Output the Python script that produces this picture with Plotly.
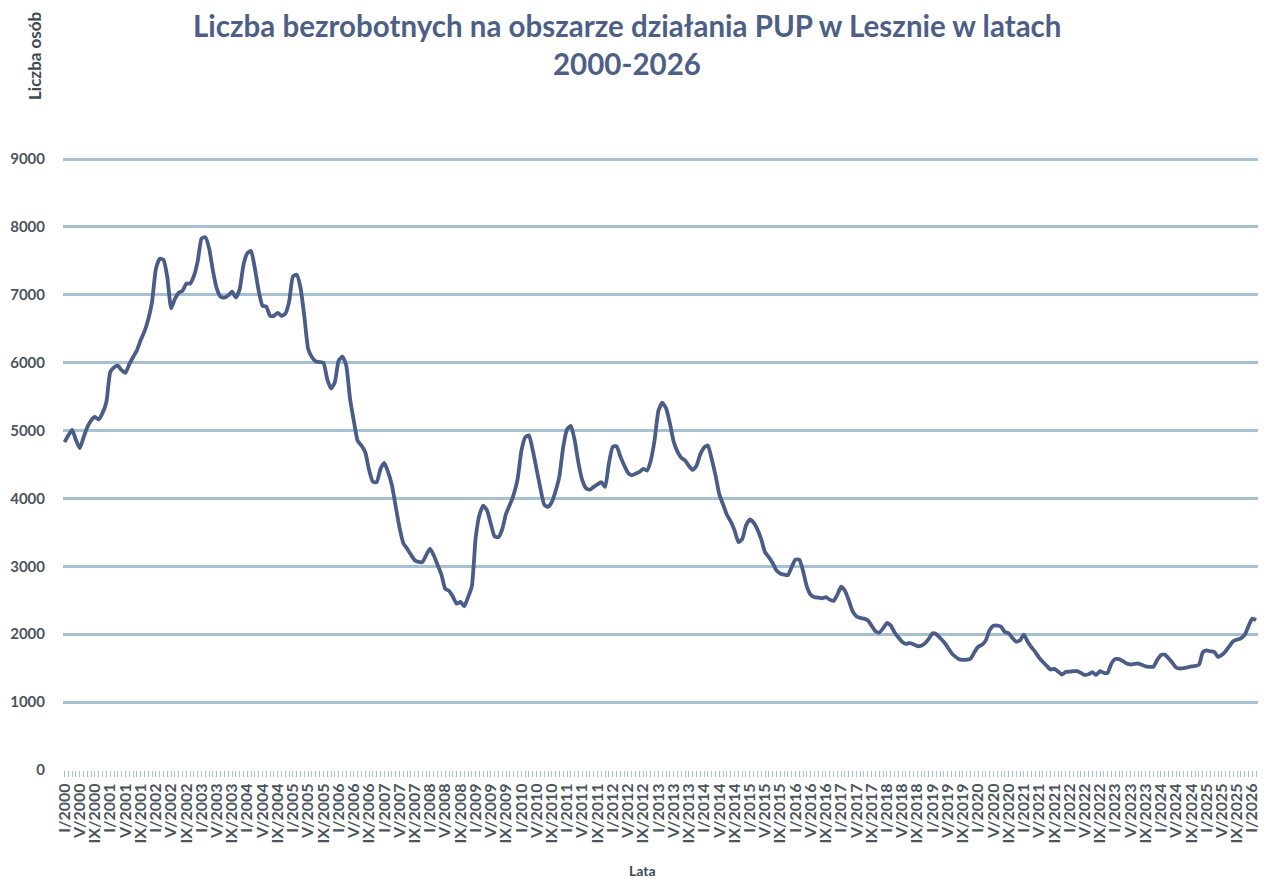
import plotly.graph_objects as go

roman = ["I", "II", "III", "IV", "V", "VI", "VII", "VIII", "IX", "X", "XI", "XII"]

years = list(range(2000, 2027))

# monthly number of unemployed, I/2000 .. II/2026
v2000 = [4830, 4930, 5010, 4860, 4740, 4900, 5050, 5150, 5200, 5165, 5260, 5420]
v2001 = [5860, 5930, 5955, 5890, 5850, 5975, 6080, 6180, 6330, 6460, 6640, 6900]
v2002 = [7380, 7530, 7515, 7260, 6800, 6940, 7030, 7060, 7166, 7166, 7280, 7500]
v2003 = [7830, 7850, 7680, 7350, 7090, 6970, 6960, 6990, 7045, 6960, 7080, 7440]
v2004 = [7610, 7645, 7390, 7060, 6840, 6825, 6690, 6690, 6735, 6690, 6720, 6900]
v2005 = [7270, 7295, 7100, 6680, 6200, 6080, 6020, 6010, 6000, 5760, 5620, 5710]
v2006 = [6030, 6090, 5960, 5470, 5140, 4850, 4780, 4680, 4420, 4245, 4240, 4436]
v2007 = [4525, 4387, 4195, 3880, 3570, 3340, 3260, 3170, 3090, 3065, 3063, 3165]
v2008 = [3260, 3160, 3020, 2880, 2670, 2640, 2555, 2450, 2475, 2410, 2545, 2710]
v2009 = [3420, 3760, 3895, 3820, 3620, 3440, 3431, 3550, 3780, 3910, 4060, 4280]
v2010 = [4700, 4900, 4930, 4710, 4430, 4150, 3910, 3875, 3946, 4110, 4330, 4760]
v2011 = [5020, 5070, 4860, 4520, 4270, 4150, 4130, 4170, 4206, 4240, 4170, 4520]
v2012 = [4760, 4770, 4620, 4490, 4380, 4340, 4365, 4390, 4436, 4410, 4560, 4860]
v2013 = [5290, 5410, 5330, 5110, 4840, 4690, 4600, 4560, 4480, 4420, 4480, 4650]
v2014 = [4750, 4780, 4580, 4340, 4060, 3910, 3760, 3660, 3530, 3357, 3400, 3600]
v2015 = [3690, 3645, 3545, 3400, 3210, 3135, 3050, 2940, 2895, 2878, 2870, 2990]
v2016 = [3100, 3100, 2930, 2700, 2580, 2545, 2540, 2530, 2545, 2510, 2490, 2580]
v2017 = [2700, 2640, 2500, 2340, 2265, 2240, 2230, 2206, 2125, 2045, 2025, 2085]
v2018 = [2165, 2130, 2030, 1955, 1890, 1858, 1870, 1853, 1824, 1830, 1865, 1930]
v2019 = [2015, 2000, 1945, 1885, 1808, 1722, 1670, 1630, 1622, 1625, 1640, 1735]
v2020 = [1815, 1845, 1910, 2060, 2125, 2128, 2110, 2032, 2015, 1945, 1890, 1912]
v2021 = [1995, 1890, 1808, 1738, 1655, 1592, 1535, 1480, 1490, 1450, 1405, 1445]
v2022 = [1448, 1455, 1456, 1430, 1400, 1410, 1440, 1400, 1455, 1432, 1431, 1570]
v2023 = [1635, 1632, 1605, 1568, 1554, 1562, 1569, 1550, 1526, 1520, 1520, 1618]
v2024 = [1693, 1700, 1645, 1580, 1510, 1495, 1502, 1513, 1525, 1533, 1550, 1735]
v2025 = [1762, 1748, 1740, 1665, 1695, 1750, 1825, 1895, 1920, 1940, 1990, 2120]
v2026 = [2230, 2210]

values = (v2000 + v2001 + v2002 + v2003 + v2004 + v2005 + v2006 + v2007 + v2008
          + v2009 + v2010 + v2011 + v2012 + v2013 + v2014 + v2015 + v2016 + v2017
          + v2018 + v2019 + v2020 + v2021 + v2022 + v2023 + v2024 + v2025 + v2026)

months = [f"{roman[m]}/{y}" for y in years for m in range(12)][:len(values)]
tick_text = [m if (i % 4 == 0) else "" for i, m in enumerate(months)]

title_line1 = "Liczba bezrobotnych na obszarze działania PUP w Lesznie w latach"
title_line2 = "2000-2026"
y_title = "Liczba osób"
x_title = "Lata"

FONT = "Lato"
TITLE_COLOR = "#4E5F87"
LINE_COLOR = "#4A5C87"
GRID_COLOR = "#A6C1D1"
TEXT_COLOR = "#4A545C"

fig = go.Figure()
fig.add_trace(go.Scatter(
    x=months, y=values, mode="lines",
    line=dict(color=LINE_COLOR, width=3.8, shape="spline", smoothing=0.5),
    hoverinfo="x+y", showlegend=False,
))

fig.update_layout(
    width=1264, height=879,
    margin=dict(l=63, r=6, t=158, b=109),
    paper_bgcolor="white", plot_bgcolor="white",
    font=dict(family=FONT, color=TEXT_COLOR),
    xaxis=dict(
        type="category",
        range=[-0.4, len(values) - 0.5],
        tickmode="array", tickvals=months, ticktext=tick_text,
        tickangle=-90,
        ticks="outside", ticklen=6, tickwidth=1, tickcolor=GRID_COLOR,
        tickfont=dict(family=FONT, size=16, color=TEXT_COLOR, weight="bold"),
        showgrid=False, zeroline=False, showline=False,
        automargin=False,
    ),
    yaxis=dict(
        range=[0, 9015], tickmode="array",
        tickvals=[0, 1000, 2000, 3000, 4000, 5000, 6000, 7000, 8000, 9000],
        showgrid=True, gridcolor=GRID_COLOR, gridwidth=3,
        zeroline=False, showline=False,
        ticks="outside", ticklen=14, tickcolor="rgba(0,0,0,0)",
        tickfont=dict(family=FONT, size=15, color=TEXT_COLOR, weight="bold"),
        automargin=False,
    ),
    annotations=[
        dict(text=f"<b>{title_line1}</b>", xref="paper", yref="paper",
             x=0.472, y=1.0, yshift=133, xanchor="center", yanchor="middle",
             showarrow=False, font=dict(family=FONT, size=29.5, color=TITLE_COLOR)),
        dict(text=f"<b>{title_line2}</b>", xref="paper", yref="paper",
             x=0.472, y=1.0, yshift=95, xanchor="center", yanchor="middle",
             showarrow=False, font=dict(family=FONT, size=29.5, color=TITLE_COLOR)),
        dict(text=f"<b>{y_title}</b>", xref="paper", yref="paper",
             x=0, xshift=-29, y=1.0, yshift=102, xanchor="center", yanchor="middle",
             textangle=-90, showarrow=False,
             font=dict(family=FONT, size=17, color="#3F4A52")),
        dict(text=f"<b>{x_title}</b>", xref="paper", yref="paper",
             x=0.485, y=0, yshift=-100, xanchor="center", yanchor="middle",
             showarrow=False, font=dict(family=FONT, size=14, color="#3F4A52")),
    ],
)

fig.write_html("out.html", config={"displayModeBar": False},
               post_script="document.body.style.margin='0';")
